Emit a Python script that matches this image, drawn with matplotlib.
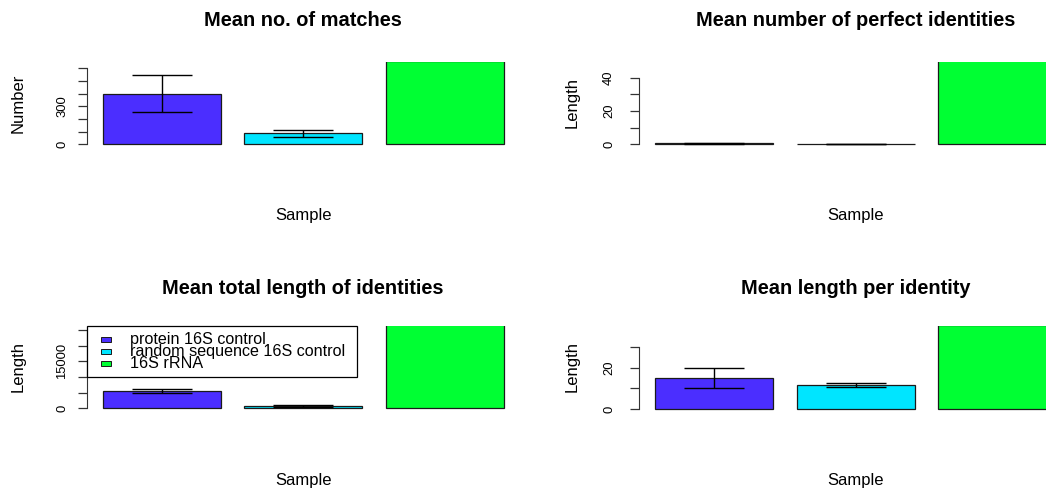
import numpy as np
import matplotlib
matplotlib.use("Agg")
from matplotlib import pyplot as plt
from matplotlib.patches import Rectangle

plt.rcParams['font.family'] = ['Liberation Sans', 'DejaVu Sans']

# groups and colours
groups = ["protein 16S control", "random sequence 16S control", "16S rRNA"]
colors = ["#4B2EFF", "#00E5FF", "#00FF33"]

titles = ["Mean no. of matches", "Mean number of perfect identities",
          "Mean total length of identities", "Mean length per identity"]
ylabels = ["Number", "Length", "Length", "Length"]

# values (green bars run off the top of each panel)
matches_mean = [400, 88, 660]
matches_sd = [147, 27]
perfect_mean = [0.6, 0, 52]
perfect_sd = [0.35, 0]
total_len_mean = [5500, 830, 27000]
total_len_sd = [640, 325]
len_per_mean = [14.9, 11.7, 41]
len_per_sd = [4.8, 1.0]

yticks = [[0, 100, 200, 300, 400, 500, 600],
          [0, 10, 20, 30, 40],
          [0, 5000, 10000, 15000, 20000, 25000],
          [0, 10, 20, 30]]
ytick_shown = [[0, 300], [0, 20, 40], [0, 15000], [0, 20]]

means = [matches_mean, perfect_mean, total_len_mean, len_per_mean]
sds = [matches_sd, perfect_sd, total_len_sd, len_per_sd]

W, H = 1046, 488
fig = plt.figure(figsize=(W / 100, H / 100), dpi=100)

# panel layout in pixels: left x, top y, bottom y, zero-line y, px per unit
layout = [(86.6, 62, 150, 144.3, 76 / 600),
          (639, 62, 150, 144.3, 66.6 / 40),
          (86.6, 326, 414, 408.3, 78.3 / 25000),
          (639, 326, 414, 409, 61.7 / 30)]
pw = 433.3

x = np.array([0.7, 1.9, 3.1])
axes = []
for i in range(4):
    lx, top, bot, zero, s = layout[i]
    ax = fig.add_axes([lx / W, 1 - bot / H, pw / W, (bot - top) / H])
    ax.set_xlim(0.064, 3.736)
    ax.set_ylim(-(bot - zero) / s, (zero - top) / s)
    ax.bar(x, means[i], width=1, color=colors, edgecolor='#1a1a1a', linewidth=0.9)
    ax.errorbar(x[:2], means[i][:2], yerr=sds[i], fmt='none', ecolor='black',
                elinewidth=1, capsize=21.6, capthick=1)
    for sp in ['top', 'right', 'bottom']:
        ax.spines[sp].set_visible(False)
    ax.spines['left'].set_bounds(yticks[i][0], yticks[i][-1])
    ax.spines['left'].set_color('#333333')
    ax.set_xticks([])
    ax.set_yticks(yticks[i])
    ax.set_yticklabels([str(t) if t in ytick_shown[i] else '' for t in yticks[i]])
    ax.tick_params(axis='y', length=6.7, width=0.9, color='#333333',
                   labelsize=9.4, labelrotation=90, pad=6.5 if lx < 300 else 10.5)
    for lab in ax.get_yticklabels():
        lab.set_va('center')
    ax.patch.set_alpha(0)
    axes.append(ax)

    cx = lx + pw / 2
    ty = 21 if top < 200 else 288
    sy = 215 if top < 200 else 481
    ly = 103 if top < 200 else 367
    lxl = 18.5 if lx < 300 else 572.5
    fig.text(cx / W, 1 - ty / H, titles[i], ha='center', va='center',
             fontsize=14.4, fontweight='bold')
    fig.text(cx / W, 1 - sy / H, "Sample", ha='center', va='center', fontsize=12)
    fig.text(lxl / W, 1 - ly / H, ylabels[i], ha='center', va='center',
             fontsize=12, rotation=90)

# legend in the third panel, drawn R style (tight rows)
lg_x0, lg_y0, lg_x1, lg_y1 = 87.3, 326, 356.7, 376.7
fig.patches.append(Rectangle((lg_x0 / W, 1 - lg_y1 / H), (lg_x1 - lg_x0) / W,
                             (lg_y1 - lg_y0) / H, transform=fig.transFigure,
                             facecolor='white', edgecolor='black', linewidth=0.9,
                             zorder=5))
row_y = [339.5, 351.5, 363.5]
for g, c, ry in zip(groups, colors, row_y):
    fig.patches.append(Rectangle((100.7 / W, 1 - (ry + 2.3) / H), 10 / W, 4.6 / H,
                                 transform=fig.transFigure, facecolor=c,
                                 edgecolor='#1a1a1a', linewidth=0.7, zorder=6))
    fig.text(130 / W, 1 - ry / H, g, ha='left', va='center', fontsize=11.6, zorder=7)

plt.savefig("out.png", dpi=100)
